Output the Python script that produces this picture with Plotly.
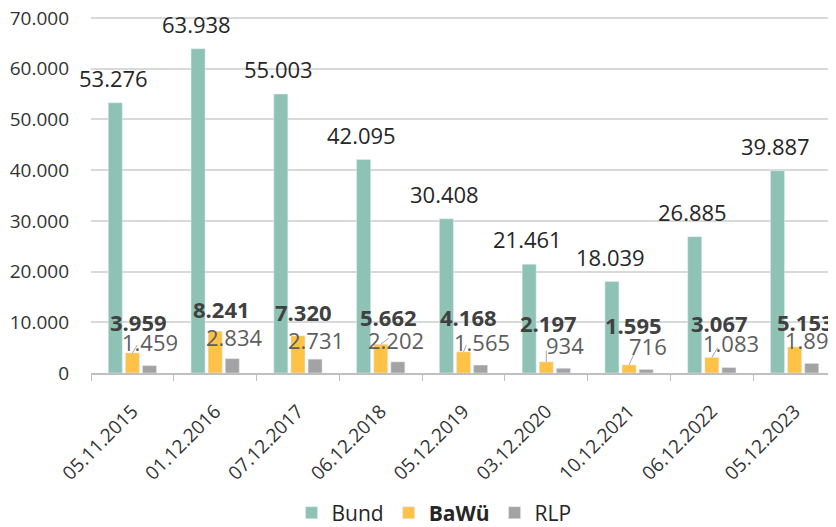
import plotly.graph_objects as go

categories = ["05.11.2015", "01.12.2016", "07.12.2017", "06.12.2018", "05.12.2019",
              "03.12.2020", "10.12.2021", "06.12.2022", "05.12.2023"]
bund = [53276, 63938, 55003, 42095, 30408, 21461, 18039, 26885, 39887]
bawue = [3959, 8241, 7320, 5662, 4168, 2197, 1595, 3067, 5153]
rlp = [1459, 2834, 2731, 2202, 1565, 934, 716, 1083, 1890]

# label placement (data units for y, pixel shifts for x)
bawue_label_y = [10056, 12620, 12028, 11042, 11042, 9859, 9465, 9859, 10056]
bawue_label_dx = [6, 6, 6, 8, 5, 2, 4, 8, 11]
rlp_label_y = [6113, 7099, 6507, 6507, 6113, 5521, 5324, 5915, 6507]
rlp_label_dx = [18, 19, 18, 15, 18, 19, 19, 19, 18]
# leader lines (pixel offsets from BaWü bar top), None = no line
leader = [(5, 8), None, None, (8, 6), (3, 7), (0, 11), (5, 11), (6, 10), None]

C_BUND = "#8EC2B5"
C_BAWUE = "#FDC246"
C_RLP = "#A3A3A3"
FONT = "Open Sans"

# page body has an 8px default margin -> figure is 8px smaller, margins reduced
W, H = 828, 519


def de(v):
    return f"{v:,}".replace(",", ".")


fig = go.Figure()
fig.add_bar(name="Bund", x=categories, y=bund, marker_color=C_BUND)
fig.add_bar(name="<b>BaWü</b>", x=categories, y=bawue, marker_color=C_BAWUE)
fig.add_bar(name="RLP", x=categories, y=rlp, marker_color=C_RLP)

ann = []
shapes = []
for i, cat in enumerate(categories):
    ann.append(dict(x=i, y=bund[i], xref="x", yref="y", text=de(bund[i]), showarrow=False,
                    xshift=-19, yanchor="bottom", yshift=8,
                    font=dict(family=FONT, size=22, color="#262626")))
    ann.append(dict(x=i, y=bawue_label_y[i], xref="x", yref="y", text="<b>" + de(bawue[i]) + "</b>",
                    showarrow=False, xshift=bawue_label_dx[i], yanchor="middle",
                    font=dict(family=FONT, size=22, color="#404040")))
    ann.append(dict(x=i, y=rlp_label_y[i], xref="x", yref="y", text=de(rlp[i]),
                    showarrow=False, xshift=rlp_label_dx[i], yanchor="middle",
                    font=dict(family=FONT, size=22, color="#5E5E5E")))
    if leader[i] is not None:
        dx, dy = leader[i]
        shapes.append(dict(type="line", xref="x", yref="y",
                           xsizemode="pixel", ysizemode="pixel",
                           xanchor=i, yanchor=bawue[i],
                           x0=0, x1=dx, y0=0, y1=dy,
                           line=dict(color="#A6A6A6", width=1)))

fig.update_layout(
    width=W, height=H,
    margin=dict(l=83, r=0, t=9, b=154, autoexpand=False),
    paper_bgcolor="white", plot_bgcolor="white",
    barmode="group", bargap=0.38, bargroupgap=0.18,
    separators=",.",
    font=dict(family=FONT, color="#404040"),
    annotations=ann, shapes=shapes,
    showlegend=True,
    legend=dict(orientation="h", xref="container", yref="container",
                x=(434 - 8) / W, xanchor="center", y=(527 - 513) / H, yanchor="middle",
                font=dict(family=FONT, size=21, color="#262626"),
                itemwidth=30, traceorder="normal"),
)
fig.update_xaxes(type="category", range=[-0.5, len(categories) - 0.5],
                 tickson="boundaries", ticks="outside", ticklen=6,
                 tickcolor="#BFBFBF", showline=True, linecolor="#BFBFBF", linewidth=1.5,
                 tickangle=-45, tickfont=dict(family=FONT, size=19, color="#333333"),
                 ticklabelstandoff=18, automargin=False, showgrid=False)
fig.update_yaxes(range=[0, 70200], tickvals=[0, 10000, 20000, 30000, 40000, 50000, 60000, 70000],
                 tickformat=",d", showgrid=True,
                 gridcolor="#D9D9D9", gridwidth=1.5, zeroline=False, showline=False,
                 ticks="", ticklabelstandoff=21, automargin=False, ticklabeloverflow="allow",
                 tickfont=dict(family=FONT, size=19, color="#333333"))

fig.write_html("out.html")
